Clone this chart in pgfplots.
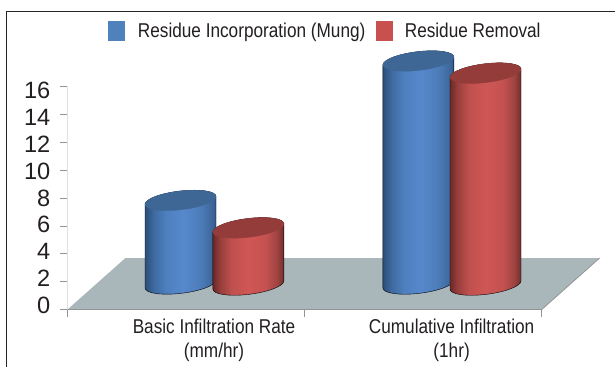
\documentclass[border=0pt]{standalone}
\usepackage{pgfplots}
\usepackage{pgfplotstable}
\usepackage{fontspec}
\pgfplotsset{compat=1.18}
\setmainfont{Liberation Sans}
\newfontfamily\labelfont[FakeStretch=0.86]{Liberation Sans}

\definecolor{floorgrey}{HTML}{A9B7BB}
\definecolor{swatchblue}{HTML}{4F81BD}
\definecolor{swatchred}{HTML}{C8514F}
\definecolor{topblue}{HTML}{3E6795}
\definecolor{topred}{HTML}{933C3A}
\definecolor{inktext}{HTML}{231F20}

\definecolor{ba}{RGB}{42,78,120}
\definecolor{bb}{RGB}{62,106,160}
\definecolor{bc}{RGB}{78,128,192}
\definecolor{bd}{RGB}{86,136,204}
\definecolor{be}{RGB}{76,124,184}
\definecolor{bf}{RGB}{62,104,156}
\definecolor{bg}{RGB}{50,88,136}
\definecolor{ra}{RGB}{108,42,40}
\definecolor{rb}{RGB}{150,62,60}
\definecolor{rc}{RGB}{190,80,77}
\definecolor{rd}{RGB}{207,87,85}
\definecolor{re}{RGB}{196,82,80}
\definecolor{rf}{RGB}{160,68,66}
\definecolor{rg}{RGB}{110,47,46}

\pgfdeclarehorizontalshading{cylblue}{100bp}{
  color(0bp)=(ba); color(25bp)=(ba); color(31bp)=(bb); color(40bp)=(bc);
  color(52bp)=(bd); color(64bp)=(be); color(72bp)=(bf); color(75bp)=(bg);
  color(100bp)=(bg)}
\pgfdeclarehorizontalshading{cylred}{100bp}{
  color(0bp)=(ra); color(25bp)=(ra); color(30bp)=(rb); color(38bp)=(rc);
  color(50bp)=(rd); color(62bp)=(re); color(70bp)=(rf); color(75bp)=(rg);
  color(100bp)=(rg)}

% Cylinder hanging from the point (x, value), lifted onto the floor plane.
% #1 shading, #2 lid colour, #3 lift in bp, #4 slope of the ellipses
\newcommand\cylinder[4]{%
  \pgfscope
    \pgftransformcm{1}{#4}{0}{1}{\pgfpoint{0bp}{#3bp}}%
    \shade[shading=#1] (-35.5bp,0pt) -- (-35.5bp,-\hgt bp)
      arc[start angle=180,end angle=360,x radius=35.5bp,y radius=9.4bp]
      -- (35.5bp,0pt)
      arc[start angle=0,end angle=180,x radius=35.5bp,y radius=9.4bp] -- cycle;
    \fill[#2] (0bp,0bp) ellipse[x radius=35.5bp,y radius=9.4bp];
  \endpgfscope}
\pgfdeclareplotmark{cylblue}{\cylinder{cylblue}{topblue}{25.5}{0.11}}
\pgfdeclareplotmark{cylred}{\cylinder{cylred}{topred}{24.5}{0.115}}

\pgfplotstableread{
x v
0.4766 6.0
1.4800 16.0
}\incorporation
\pgfplotstableread{
x v
0.7630 4.1
1.7630 15.2
}\removal

\begin{document}
\begin{tikzpicture}[x=1bp,y=1bp]
  \path[use as bounding box] (-67.5bp,-57.5bp) rectangle (547.5bp,309.5bp);
  \draw[color=black!85,line width=0.9bp]
    (-61bp,-57.5bp) -- (-61bp,298.5bp) -- (547.5bp,298.5bp);
  \begin{axis}[
    at={(0bp,0bp)}, anchor=south west,
    scale only axis, width=474.2bp, height=223bp,
    xmin=0, xmax=2, ymin=0, ymax=16,
    clip=false,
    axis lines=left, axis line style={-, draw=black!12, line width=0.8bp},
    x axis line style={draw=none},
    xtick={0,1,2}, xticklabels={},
    ytick={0,2,...,16},
    tick style={draw=black!42, line width=0.7bp},
    major tick length=7bp,
    tick align=outside,
    y tick label style={font=\fontsize{23.6bp}{24bp}\selectfont, text=inktext,
      inner sep=0pt, xshift=-10bp, yshift={(4-\ticknum)*1bp}},
    /pgf/number format/assume math mode=true,
    extra x ticks={0.618,1.62},
    extra x tick labels={{Basic Infiltration Rate\\(mm/hr)},{Cumulative Infiltration\\(1hr)}},
    extra x tick style={major tick length=0bp, tick style={draw=none},
      x tick label style={align=center, text=inktext, inner sep=0pt, yshift=-9bp,
        font=\labelfont\fontsize{20bp}{24bp}\selectfont}},
    legend style={at={(0.084,1.25)}, anchor=west, draw=none, fill=none,
      legend columns=2, inner sep=0pt,
      font=\labelfont\fontsize{20bp}{22bp}\selectfont,
      text=inktext,
      /tikz/column 1/.style={column sep=12bp},
      /tikz/column 2/.style={column sep=9bp},
      /tikz/column 3/.style={column sep=10bp}},
    legend cell align=left,
    legend image code/.code={\fill[#1] (0bp,-9.5bp) rectangle (16bp,9.5bp);},
  ]
    % floor of the chart
    \addplot[fill=floorgrey, draw=none, forget plot] coordinates
      {(0,0) (2,0) (2.2445,3.695) (0.2445,3.695)} -- cycle;
    \addplot[draw=black!42, line width=0.8bp, forget plot] coordinates
      {(0,0) (2,0) (2.2445,3.695)};

    \addplot[mark=cylblue, only marks, forget plot,
      visualization depends on={\thisrow{v}*13.94 \as \hgt},
      scatter, scatter src=y,
      scatter/@pre marker code/.code={\scope},
      scatter/@post marker code/.code={\endscope}]
      table[x=x,y=v] {\incorporation};
    \addplot[mark=cylred, only marks, forget plot,
      visualization depends on={\thisrow{v}*13.94 \as \hgt},
      scatter, scatter src=y,
      scatter/@pre marker code/.code={\scope},
      scatter/@post marker code/.code={\endscope}]
      table[x=x,y=v] {\removal};

    \addlegendimage{swatchblue}
    \addlegendentry{Residue Incorporation (Mung)}
    \addlegendimage{swatchred}
    \addlegendentry{\raisebox{-1.5bp}{Residue Removal}}
  \end{axis}
\end{tikzpicture}
\end{document}
